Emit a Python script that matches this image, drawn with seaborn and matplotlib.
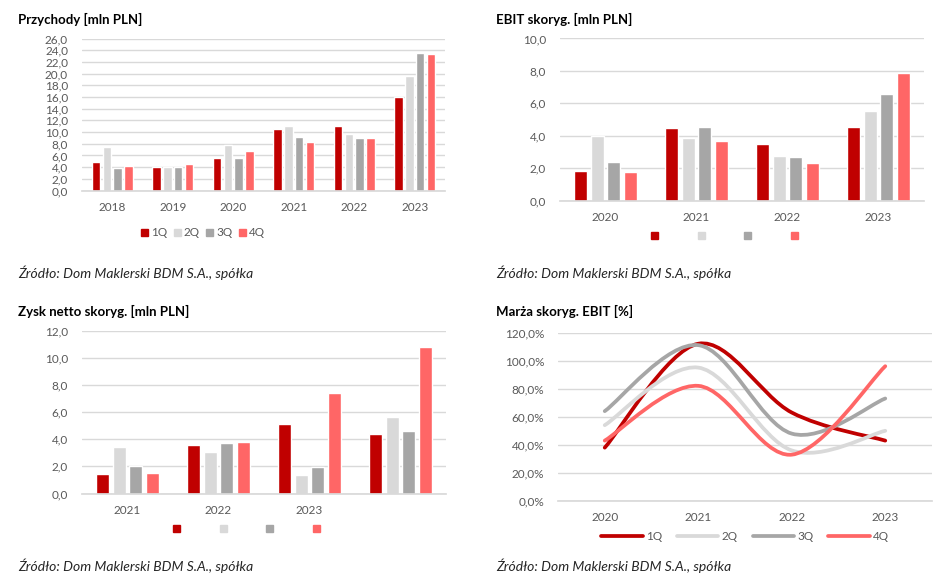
import numpy as np
import pandas as pd
import seaborn as sns
import matplotlib.pyplot as plt
import matplotlib.ticker as ticker
from matplotlib.path import Path
from matplotlib.patches import PathPatch, Patch
from matplotlib.lines import Line2D

# --- data ---
quarters = ["1Q", "2Q", "3Q", "4Q"]
colors = ["#C00000", "#D9D9D9", "#A6A6A6", "#FF6666"]

rev_years = ["2018", "2019", "2020", "2021", "2022", "2023"]
rev_1q = [4.8, 4.1, 5.6, 10.5, 11.1, 16.0]
rev_2q = [7.4, 4.1, 7.7, 11.1, 9.7, 19.6]
rev_3q = [3.9, 4.1, 5.5, 9.1, 8.9, 23.6]
rev_4q = [4.2, 4.6, 6.8, 8.3, 8.9, 23.3]

ebit_years = ["2020", "2021", "2022", "2023"]
ebit_1q = [1.85, 4.5, 3.5, 4.55]
ebit_2q = [4.0, 3.85, 2.75, 5.5]
ebit_3q = [2.4, 4.55, 2.7, 6.6]
ebit_4q = [1.75, 3.65, 2.3, 7.9]

net_years = ["2021", "2022", "2023", "2024"]
net_labels = ["2021", "2022", "2023", ""]
net_1q = [1.45, 3.55, 5.1, 4.4]
net_2q = [3.4, 3.1, 1.4, 5.65]
net_3q = [2.0, 3.75, 1.95, 4.65]
net_4q = [1.5, 3.8, 7.4, 10.8]

marg_years = ["2020", "2021", "2022", "2023"]
marg_1q = [38, 112, 63, 43]
marg_2q = [54, 95, 36, 50]
marg_3q = [64, 111, 48, 73]
marg_4q = [43, 82, 33, 96]

source = "Źródło: Dom Maklerski BDM S.A., spółka"

sns.set_theme(style="white")
plt.rcParams['font.family'] = ['Lato', 'DejaVu Sans']

W, H = 940, 577
fig = plt.figure(figsize=(W / 100, H / 100), dpi=100)
TICK = "#595959"
GRID = "#D9D9D9"
FS = 8.5


def px_axes(x0, y0, x1, y1):
    return fig.add_axes([x0 / W, 1 - y1 / H, (x1 - x0) / W, (y1 - y0) / H])


def long_df(years, series):
    rows = []
    for q, vals in zip(quarters, series):
        for y, v in zip(years, vals):
            rows.append({"year": y, "quarter": q, "value": v})
    return pd.DataFrame(rows)


def comma(fmt):
    return ticker.FuncFormatter(lambda v, p: (fmt % v).replace(".", ","))


def style_axes(ax, ymax, step, fmt="%.1f"):
    ax.set_ylim(0, ymax)
    ax.yaxis.set_major_locator(ticker.MultipleLocator(step))
    ax.yaxis.set_major_formatter(comma(fmt))
    ax.grid(axis="y", color=GRID, lw=1)
    ax.set_axisbelow(True)
    for s in ["top", "right", "left"]:
        ax.spines[s].set_visible(False)
    ax.spines["bottom"].set_color(GRID)
    ax.tick_params(axis="both", length=0, colors=TICK, labelsize=FS)
    ax.tick_params(axis="y", pad=10)
    ax.tick_params(axis="x", pad=8)
    ax.set_xlabel("")
    ax.set_ylabel("")


def bar_panel(ax, years, series, ymax, step, width, gap):
    df = long_df(years, series)
    sns.barplot(data=df, x="year", y="value", hue="quarter", order=years,
                hue_order=quarters, palette=colors, saturation=1,
                width=width, gap=gap, ax=ax, legend=False)
    style_axes(ax, ymax, step)


def square_legend(ax, labels, x, y, colspace):
    handles = [Patch(color=c) for c in colors]
    fig.legend(handles, labels, loc="center", bbox_to_anchor=(x / W, 1 - y / H),
               ncol=4, frameon=False, fontsize=FS, handlelength=0.6,
               handleheight=0.6, handletextpad=0.25, columnspacing=colspace,
               labelcolor=TICK)


# Przychody
ax1 = px_axes(82, 38.5, 445, 190.5)
bar_panel(ax1, rev_years, [rev_1q, rev_2q, rev_3q, rev_4q], 26, 2, 0.72, 0.22)
square_legend(ax1, quarters, 203, 233, 0.55)

# EBIT skoryg.
ax2 = px_axes(560, 38.5, 924, 200.5)
bar_panel(ax2, ebit_years, [ebit_1q, ebit_2q, ebit_3q, ebit_4q], 10, 2, 0.73, 0.24)
square_legend(ax2, [""] * 4, 726, 236, 3.1)

# Zysk netto skoryg.
ax3 = px_axes(82, 331, 446, 493.5)
bar_panel(ax3, net_years, [net_1q, net_2q, net_3q, net_4q], 12, 2, 0.73, 0.24)
ax3.set_xticks(range(len(net_labels)), net_labels)
square_legend(ax3, [""] * 4, 248, 529, 3.1)


# Marża skoryg. EBIT - smoothed lines like the spreadsheet's
def smooth_path(xs, ys):
    pts = list(zip(xs, ys))
    verts = [pts[0]]
    codes = [Path.MOVETO]
    for i in range(len(pts) - 1):
        p0 = pts[i - 1] if i > 0 else pts[i]
        p1 = pts[i]
        p2 = pts[i + 1]
        p3 = pts[i + 2] if i + 2 < len(pts) else pts[i + 1]
        c1 = (p1[0] + (p2[0] - p0[0]) / 6, p1[1] + (p2[1] - p0[1]) / 6)
        c2 = (p2[0] - (p3[0] - p1[0]) / 6, p2[1] - (p3[1] - p1[1]) / 6)
        verts += [c1, c2, p2]
        codes += [Path.CURVE4] * 3
    return Path(verts, codes)


ax4 = px_axes(558, 332.5, 932, 501)
xs = np.arange(len(marg_years))
for vals, c in zip([marg_1q, marg_2q, marg_3q, marg_4q], colors):
    ax4.add_patch(PathPatch(smooth_path(xs, vals), fill=False, edgecolor=c,
                            lw=2.7, capstyle="round", joinstyle="round"))
ax4.set_xlim(-0.5, len(marg_years) - 0.5)
ax4.set_xticks(xs, marg_years)
style_axes(ax4, 120, 20, "%.1f%%")
line_handles = [Line2D([], [], color=c, lw=2.7) for c in colors]
fig.legend(line_handles, quarters, loc="center", bbox_to_anchor=(745 / W, 1 - 537 / H),
           ncol=4, frameon=False, fontsize=FS, handlelength=3.5,
           handletextpad=0.25, columnspacing=1.3, labelcolor=TICK)

# titles and sources
for x, y, t in [(18, 19, "Przychody [mln PLN]"), (496, 19, "EBIT skoryg. [mln PLN]"),
                (18, 311, "Zysk netto skoryg. [mln PLN]"), (496, 311, "Marża skoryg. EBIT [%]")]:
    fig.text(x / W, 1 - y / H, t, fontsize=9.5, fontweight="bold", va="center", color="#000000")
for x, y in [(18, 273), (496, 273), (18, 566), (496, 566)]:
    fig.text(x / W, 1 - y / H, source, fontsize=10, style="italic", va="center", color="#262626")

fig.savefig("out.png", dpi=100, facecolor="white")
